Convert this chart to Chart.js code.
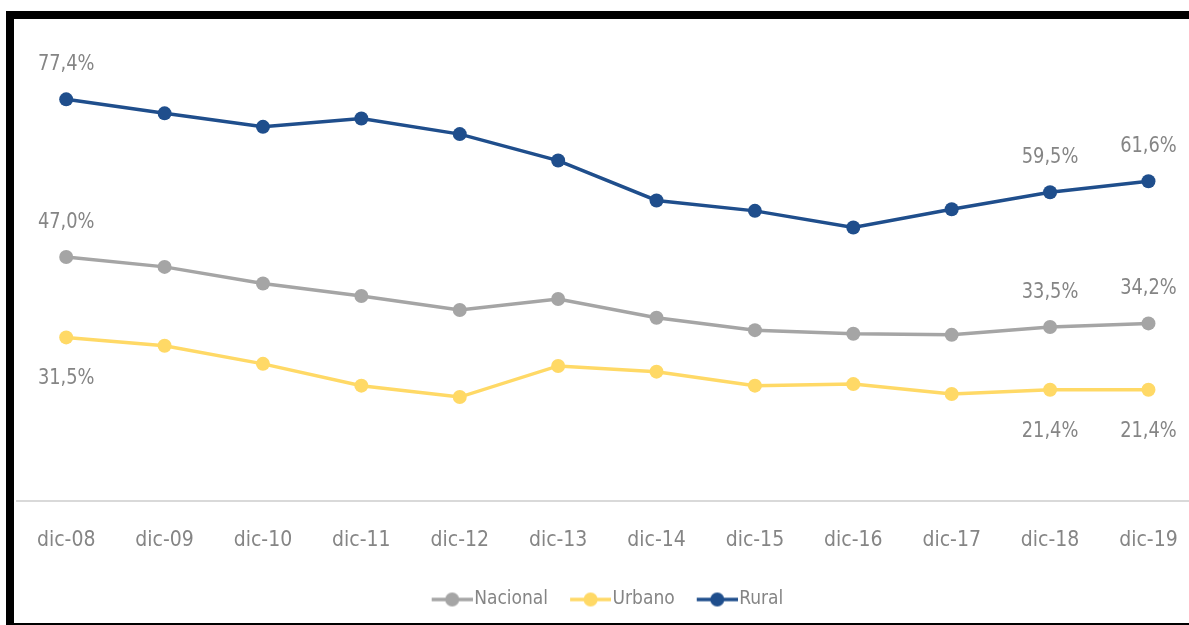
<!DOCTYPE html>
<html>
<head>
<meta charset="utf-8">
<script src="https://cdn.jsdelivr.net/npm/chart.js@4/dist/chart.umd.min.js"></script>
<style>
  html, body { margin: 0; padding: 0; background: #ffffff; overflow: hidden; }
  body { width: 1189px; height: 625px; position: relative; }
  #wrap { position: absolute; left: 0; top: 0; width: 1205px; height: 625px; }
  #frame {
    position: absolute; left: 6px; top: 11px; width: 1300px; height: 614px;
    box-sizing: border-box; border-left: 8px solid #000; border-top: 8px solid #000;
    border-bottom: 2px solid #000; pointer-events: none;
  }
</style>
</head>
<body>
<div id="wrap"><canvas id="grafico"></canvas></div>
<div id="frame"></div>
<script>
// Periodos
const periodos = ['dic-08', 'dic-09', 'dic-10', 'dic-11', 'dic-12', 'dic-13',
                  'dic-14', 'dic-15', 'dic-16', 'dic-17', 'dic-18', 'dic-19'];

// Series (%)
const nacional = [47.0, 45.1, 41.9, 39.5, 36.8, 38.9, 35.3, 32.9, 32.2, 32.0, 33.5, 34.2];
const urbano   = [31.5, 29.9, 26.4, 22.2, 20.0, 26.0, 24.9, 22.2, 22.5, 20.6, 21.4, 21.4];
const rural    = [77.4, 74.7, 72.1, 73.7, 70.7, 65.6, 57.9, 55.9, 52.7, 56.2, 59.5, 61.6];

// Puntos con etiqueta
const etiquetados = [0, 10, 11];

const FUENTE = '"DejaVu Sans Condensed", "DejaVu Sans", sans-serif';
const GRIS_TEXTO = '#858585';

// Ancho reservado por cada icono de la leyenda
const ANCHO_ICONO = 45;

// Icono de leyenda: linea con punto, pegado al texto
function iconoLeyenda(color) {
    const c = document.createElement('canvas');
    c.width = ANCHO_ICONO + 16;
    c.height = 16;
    const g = c.getContext('2d');
    const x1 = c.width, x0 = x1 - 41;
    g.strokeStyle = color;
    g.lineWidth = 3.5;
    g.beginPath();
    g.moveTo(x0, 8);
    g.lineTo(x1, 8);
    g.stroke();
    g.fillStyle = color;
    g.beginPath();
    g.arc((x0 + x1) / 2, 8, 7, 0, Math.PI * 2);
    g.fill();
    return c;
}

// Compensa el hueco vacio a la izquierda del primer icono
const centrarLeyenda = {
    id: 'centrarLeyenda',
    afterLayout(chart) {
        chart.legend.left -= 8;
        chart.legend.right -= 8;
    }
};

// Etiquetas de valor sobre/bajo los puntos
const etiquetasValor = {
    id: 'etiquetasValor',
    afterDatasetsDraw(chart) {
        const ctx = chart.ctx;
        ctx.save();
        ctx.font = '22px ' + FUENTE;
        ctx.fillStyle = GRIS_TEXTO;
        ctx.textAlign = 'center';
        ctx.textBaseline = 'middle';
        chart.data.datasets.forEach((ds, i) => {
            const meta = chart.getDatasetMeta(i);
            etiquetados.forEach(j => {
                const p = meta.data[j];
                const texto = ds.data[j].toFixed(1).replace('.', ',') + '%';
                const dy = ds.etiquetaAbajo ? 41 : -35;
                ctx.save();
                ctx.translate(p.x, p.y + dy);
                ctx.scale(0.9, 1);
                ctx.fillText(texto, 0, 0);
                ctx.restore();
            });
        });
        ctx.restore();
    }
};

function serie(label, data, color, abajo) {
    return {
        label: label,
        data: data,
        borderColor: color,
        backgroundColor: color,
        borderWidth: 3.5,
        pointRadius: 7,
        pointHoverRadius: 7,
        pointBackgroundColor: color,
        pointBorderWidth: 0,
        pointStyle: 'circle',
        tension: 0,
        etiquetaAbajo: abajo
    };
}

const ctx = document.getElementById('grafico');
const chart = new Chart(ctx, {
    type: 'line',
    data: {
        labels: periodos,
        datasets: [
            serie('Nacional', nacional, '#a5a5a5', false),
            serie('Urbano', urbano, '#ffd966', true),
            serie('Rural', rural, '#1f4e8c', false)
        ]
    },
    options: {
        responsive: true,
        maintainAspectRatio: false,
        animation: false,
        layout: {
            padding: { left: 17, right: 3, top: 34, bottom: 6 }
        },
        plugins: {
            legend: {
                position: 'bottom',
                labels: {
                    usePointStyle: true,
                    pointStyleWidth: ANCHO_ICONO,
                    padding: 10,
                    color: GRIS_TEXTO,
                    font: { family: FUENTE, size: 19 },
                    generateLabels(chart) {
                        return chart.data.datasets.map((ds, i) => ({
                            text: ds.label,
                            fillStyle: ds.borderColor,
                            strokeStyle: ds.borderColor,
                            fontColor: GRIS_TEXTO,
                            lineWidth: 0,
                            pointStyle: iconoLeyenda(ds.borderColor),
                            hidden: false,
                            datasetIndex: i
                        }));
                    }
                }
            },
            tooltip: { enabled: false }
        },
        scales: {
            x: {
                offset: true,
                grid: { display: false, drawTicks: false },
                border: { display: true, color: '#d9d9d9', width: 2 },
                ticks: {
                    color: GRIS_TEXTO,
                    font: { family: FUENTE, size: 21 },
                    padding: 27,
                    maxRotation: 0,
                    autoSkip: false
                }
            },
            y: {
                display: false,
                min: 0,
                max: 90
            }
        }
    },
    plugins: [etiquetasValor, centrarLeyenda]
});
</script>
</body>
</html>
